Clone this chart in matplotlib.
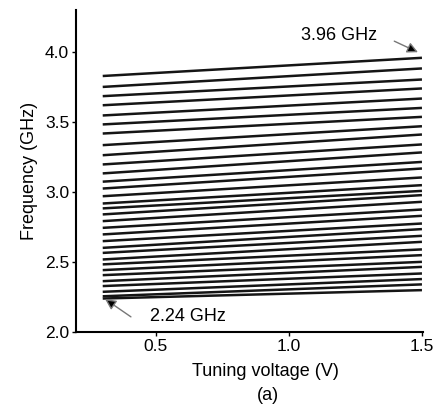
import matplotlib
matplotlib.use("Agg")
import matplotlib.pyplot as plt

plt.rcParams['font.family'] = ['Liberation Sans', 'DejaVu Sans']

# tuning voltage range of every band (V)
v_start = 0.3
v_end = 1.5

# 32 tuning curves: frequency at start / end of the voltage sweep (GHz), top to bottom
f_low = [3.83, 3.752, 3.686, 3.621, 3.548, 3.484, 3.419, 3.336, 3.264, 3.198,
         3.134, 3.075, 3.026, 2.971, 2.919, 2.884, 2.841, 2.793, 2.745, 2.698,
         2.650, 2.602, 2.566, 2.519, 2.484, 2.443, 2.407, 2.364, 2.329, 2.288,
         2.256, 2.24]
f_high = [3.96, 3.884, 3.805, 3.741, 3.669, 3.602, 3.538, 3.471, 3.412, 3.341,
          3.284, 3.216, 3.169, 3.105, 3.050, 3.009, 2.979, 2.931, 2.876, 2.831,
          2.776, 2.736, 2.688, 2.645, 2.591, 2.550, 2.502, 2.466, 2.419, 2.379,
          2.341, 2.300]

fig = plt.figure(figsize=(4.4, 4.09), dpi=100)
ax = fig.add_axes([0.173, 0.188, 0.789, 0.787])

for lo, hi in zip(f_low, f_high):
    ax.plot([v_start, v_end], [lo, hi], color='#151515', lw=1.8, solid_capstyle='butt')

ax.set_xlim(0.2, 1.505)
ax.set_ylim(2.0, 4.3)
ax.set_xticks([0.5, 1.0, 1.5])
ax.set_yticks([2.0, 2.5, 3.0, 3.5, 4.0])
ax.spines['top'].set_visible(False)
ax.spines['right'].set_visible(False)
ax.spines['left'].set_linewidth(1.5)
ax.spines['bottom'].set_linewidth(1.5)
ax.tick_params(direction='out', length=3, width=1, labelsize=12.5, pad=2)

ax.set_ylabel('Frequency (GHz)', fontsize=13, labelpad=5)
fig.text(265 / 440, 1 - 371.7 / 409, 'Tuning voltage (V)', fontsize=13,
         ha='center', va='center')
fig.text(267.5 / 440, 1 - 395 / 409, '(a)', fontsize=13, ha='center', va='center')

arrow = dict(arrowstyle='-|>', ec='#777777', fc='black', lw=1.0, mutation_scale=16,
             shrinkA=0, shrinkB=0)
ax.annotate('', xy=(1.485, 4.0), xytext=(1.396, 4.079), arrowprops=arrow)
ax.text(1.19, 4.12, '3.96 GHz', fontsize=13, ha='center', va='center')
ax.annotate('', xy=(0.309, 2.236), xytext=(0.406, 2.109), arrowprops=arrow)
ax.text(0.62, 2.109, '2.24 GHz', fontsize=13, ha='center', va='center')

fig.savefig('out.png', dpi=100)
